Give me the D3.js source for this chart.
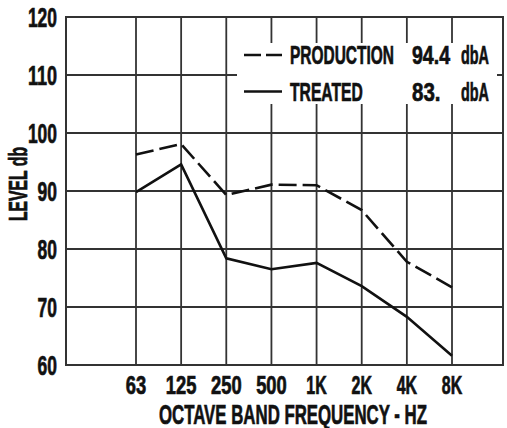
<!DOCTYPE html>
<html>
<head>
<meta charset="utf-8">
<script src="https://cdn.jsdelivr.net/npm/d3@7"></script>
<style>
    body { margin: 0; background: #fff; }
    text { font-family: "Liberation Sans", Arial, sans-serif; font-weight: bold; fill: #111; stroke: #111; stroke-width: 0.7px; }
</style>
</head>
<body>
<div class="svg-container"></div>
<script>
const FREQS = ["63", "125", "250", "500", "1K", "2K", "4K", "8K"];
const PRODUCTION = [96.3, 98.1, 89.3, 91.1, 91.0, 86.7, 77.8, 73.4];
const TREATED = [89.8, 94.6, 78.4, 76.5, 77.6, 73.6, 68.3, 61.6];
const Y_TICKS = [60, 70, 80, 90, 100, 110, 120];
const LEGEND_ROWS = [
    { label: "PRODUCTION", level: "94.4", unit: "dbA", dash: "17,5" },
    { label: "TREATED", level: "83.", unit: "dbA", dash: null },
];

const width = 507;
const height = 428;
const plot = { left: 66, right: 503, top: 17, bottom: 365 };

const svg = d3.select(".svg-container").append("svg")
    .attr("width", width)
    .attr("height", height);

// x positions of the octave bands (frame extends past first/last band)
const xScale = d3.scalePoint().domain(FREQS).range([136, 452]);
const yScale = d3.scaleLinear().domain([60, 120]).range([plot.bottom, plot.top]);

const gridColor = "#333";

// vertical grid lines
svg.append("g")
    .selectAll("line")
    .data(FREQS)
    .enter()
    .append("line")
    .attr("x1", d => xScale(d))
    .attr("x2", d => xScale(d))
    .attr("y1", plot.top)
    .attr("y2", plot.bottom)
    .attr("stroke", gridColor)
    .attr("stroke-width", 1.8);

// horizontal grid lines
svg.append("g")
    .selectAll("line")
    .data(Y_TICKS.slice(1, -1))
    .enter()
    .append("line")
    .attr("x1", plot.left)
    .attr("x2", plot.right)
    .attr("y1", d => yScale(d))
    .attr("y2", d => yScale(d))
    .attr("stroke", gridColor)
    .attr("stroke-width", 1.8);

// frame
svg.append("rect")
    .attr("x", plot.left)
    .attr("y", plot.top)
    .attr("width", plot.right - plot.left)
    .attr("height", plot.bottom - plot.top)
    .attr("fill", "none")
    .attr("stroke", gridColor)
    .attr("stroke-width", 2);

// condensed lettering: squeeze each text to the width seen in the original
function squeeze(sel, len) {
    sel.attr("textLength", len).attr("lengthAdjust", "spacingAndGlyphs");
}

// y tick labels
svg.append("g")
    .selectAll("text")
    .data(Y_TICKS)
    .enter()
    .append("text")
    .attr("x", 57)
    .attr("y", d => yScale(d))
    .attr("dy", "0.36em")
    .attr("text-anchor", "end")
    .attr("font-size", 27)
    .call(squeeze, d => String(d).length * 9.7)
    .text(d => d);

// x tick labels
svg.append("g")
    .selectAll("text")
    .data(FREQS)
    .enter()
    .append("text")
    .attr("x", d => xScale(d))
    .attr("y", 394)
    .attr("text-anchor", "middle")
    .attr("font-size", 25)
    .call(squeeze, d => d.length * 10.2)
    .text(d => d);

// axis titles
svg.append("text")
    .attr("x", 293)
    .attr("y", 424)
    .attr("text-anchor", "middle")
    .attr("font-size", 27)
    .call(squeeze, 268)
    .text("OCTAVE BAND FREQUENCY - HZ");

svg.append("text")
    .attr("transform", "translate(27,184) rotate(-90)")
    .attr("text-anchor", "middle")
    .attr("font-size", 26)
    .call(squeeze, 74)
    .text("LEVEL db");

// data lines
const line = d3.line()
    .x((d, i) => xScale(FREQS[i]))
    .y(d => yScale(d));

svg.append("path")
    .datum(PRODUCTION)
    .attr("d", line)
    .attr("fill", "none")
    .attr("stroke", "#111")
    .attr("stroke-width", 2.6)
    .attr("stroke-dasharray", "18,6");

svg.append("path")
    .datum(TREATED)
    .attr("d", line)
    .attr("fill", "none")
    .attr("stroke", "#111")
    .attr("stroke-width", 2.6);

// legend, on a white patch that hides the grid
const legend = svg.append("g");
legend.append("rect")
    .attr("x", 237)
    .attr("y", 43)
    .attr("width", 260)
    .attr("height", 61)
    .attr("fill", "#fff");

const rows = legend.selectAll("g")
    .data(LEGEND_ROWS)
    .enter()
    .append("g")
    .attr("transform", (d, i) => "translate(0," + (i * 36.5) + ")");

rows.append("line")
    .attr("x1", 244)
    .attr("x2", 282)
    .attr("y1", 55)
    .attr("y2", 55)
    .attr("stroke", "#111")
    .attr("stroke-width", 2.6)
    .attr("stroke-dasharray", d => d.dash);

rows.append("text")
    .attr("x", 290)
    .attr("y", 64)
    .attr("font-size", 26)
    .call(squeeze, d => d.label.length * 10.4)
    .text(d => d.label);

rows.append("text")
    .attr("x", 412)
    .attr("y", 64)
    .attr("font-size", 26)
    .call(squeeze, d => d.level.length * 9.5)
    .text(d => d.level);

rows.append("text")
    .attr("x", 461)
    .attr("y", 64)
    .attr("font-size", 26)
    .call(squeeze, 28)
    .text(d => d.unit);
</script>
</body>
</html>
